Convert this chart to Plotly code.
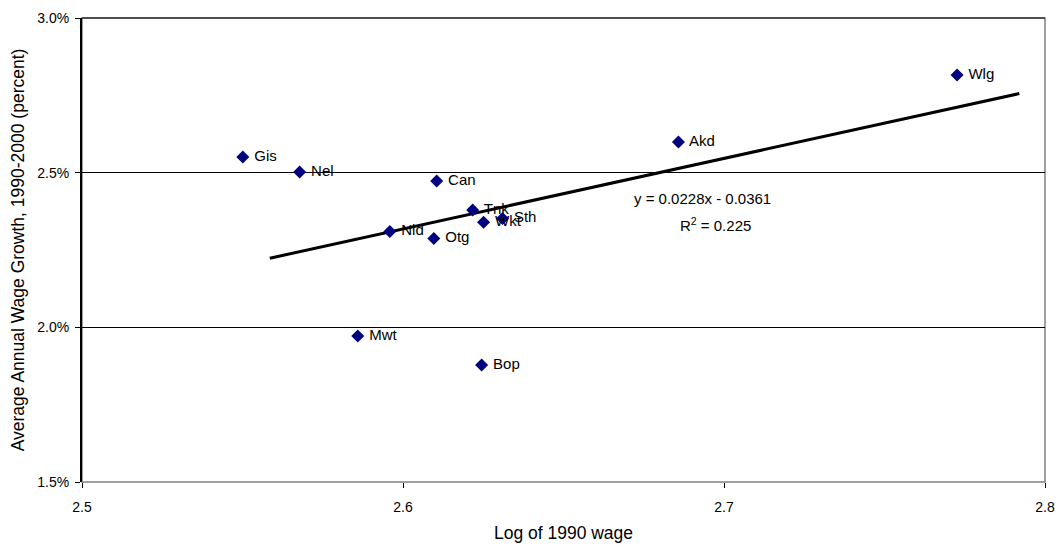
import plotly.graph_objects as go

regions = ["Wlg", "Akd", "Gis", "Nel", "Can", "Tnk", "Wkt", "Sth", "Nld", "Otg", "Mwt", "Bop"]
log_wage_1990 = [2.7726, 2.6858, 2.5501, 2.5678, 2.6105, 2.6217, 2.6251, 2.6310, 2.5959, 2.6096, 2.5859, 2.6245]
wage_growth = [0.02816, 0.02599, 0.02551, 0.02502, 0.02473, 0.02379, 0.02340, 0.02352, 0.02310, 0.02287, 0.01972, 0.01878]

trend_slope = 0.0228
trend_intercept = -0.0361
trend_r2 = 0.225
trend_x = [2.5585, 2.792]
trend_y = [trend_slope * v + trend_intercept for v in trend_x]

x_ticks = [2.5, 2.6, 2.7, 2.8]
y_ticks = [0.015, 0.020, 0.025, 0.030]

font_family = "Liberation Sans, Arial, sans-serif"

fig = go.Figure()
fig.add_trace(go.Scatter(
    x=trend_x, y=trend_y, mode="lines",
    line=dict(color="black", width=3), hoverinfo="skip", showlegend=False,
))
fig.add_trace(go.Scatter(
    x=log_wage_1990, y=wage_growth, mode="markers+text",
    text=[" " + r for r in regions], textposition="middle right",
    textfont=dict(family=font_family, size=15, color="black"),
    marker=dict(symbol="diamond", size=10, color="#000080"),
    showlegend=False,
))

fig.add_annotation(x=2.6933, y=0.02415, xref="x", yref="y",
                   text=f"y = {trend_slope}x - {abs(trend_intercept)}",
                   showarrow=False, font=dict(family=font_family, size=15, color="black"))
fig.add_annotation(x=2.6973, y=0.02331, xref="x", yref="y",
                   text=f"R<sup>2</sup> = {trend_r2}",
                   showarrow=False, font=dict(family=font_family, size=15, color="black"))

fig.update_layout(
    width=1060, height=547,
    margin=dict(l=82, r=15, t=18, b=65),
    paper_bgcolor="white", plot_bgcolor="white",
    font=dict(family=font_family, size=14, color="black"),
    shapes=[
        dict(type="rect", xref="paper", yref="paper", x0=0, y0=0, x1=1, y1=1,
             line=dict(color="#808080", width=1.5), layer="below"),
        dict(type="line", xref="paper", yref="paper", x0=0, y0=1, x1=1, y1=1,
             line=dict(color="black", width=1.2), layer="above"),
    ],
)
fig.update_xaxes(
    range=[2.5, 2.8], tickvals=x_ticks, ticktext=["2.5", "2.6", "2.7", "2.8"],
    showgrid=False, zeroline=False, showline=False, automargin=False,
    ticks="outside", ticklen=5, tickcolor="black",
    tickfont=dict(family=font_family, size=14, color="black"), ticklabelstandoff=7,
    title=dict(text="Log of 1990 wage", font=dict(family=font_family, size=17.5), standoff=12),
)
fig.update_yaxes(
    range=[0.015, 0.030], tickvals=y_ticks, tickformat=".1%",
    showgrid=True, gridcolor="black", gridwidth=1, zeroline=False, automargin=False,
    showline=True, linecolor="black", linewidth=2,
    ticks="outside", ticklen=5, tickcolor="black",
    tickfont=dict(family=font_family, size=14, color="black"), ticklabelstandoff=3,
    title=dict(text="Average Annual Wage Growth, 1990-2000 (percent)",
               font=dict(family=font_family, size=17.5), standoff=8),
)

fig.write_html(
    "out.html",
    config={"displayModeBar": False},
    post_script="document.body.style.margin='0';document.body.style.overflow='hidden';",
)
